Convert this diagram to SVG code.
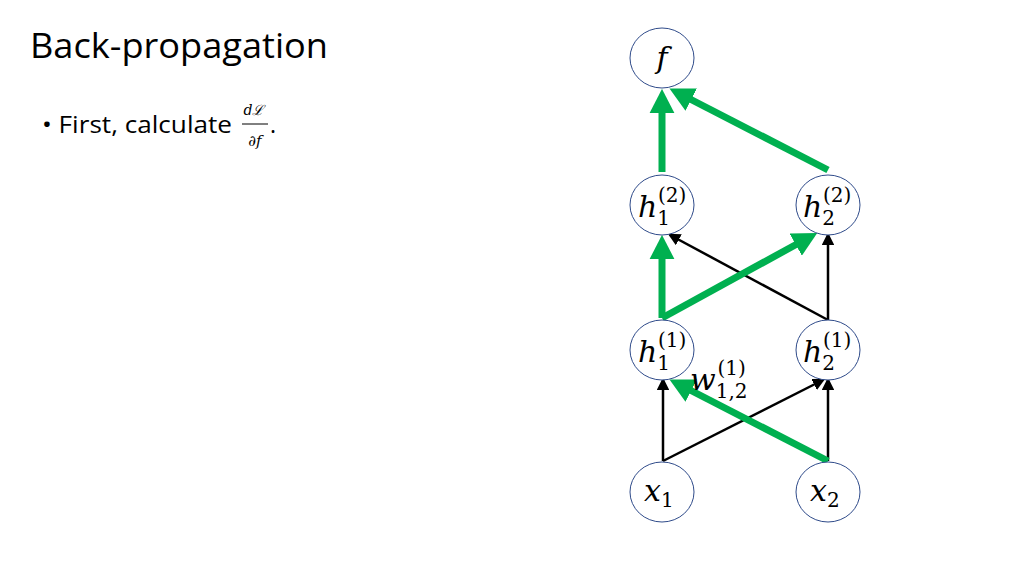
<svg xmlns="http://www.w3.org/2000/svg" width="1024" height="576" viewBox="0 0 1024 576">
<style>
.n{fill:#fff;stroke:#2f4b8a;stroke-width:1}
.m{font-family:"DejaVu Serif","Liberation Serif",serif;font-style:italic;fill:#000}
.t{font-family:"Open Sans","Liberation Sans",sans-serif;fill:#000}
.k{stroke:#000;stroke-width:2.5;fill:none;marker-end:url(#ak)}
.g{stroke:#00b050;stroke-width:7;fill:none;marker-end:url(#ag)}
</style>
<defs>
<marker id="ak" markerWidth="5" markerHeight="5" refX="4" refY="2.5" orient="auto" markerUnits="strokeWidth"><path d="M0,0L5,2.5L0,5z" fill="#000"/></marker>
<marker id="ag" markerWidth="3.5" markerHeight="3.6" refX="0.2" refY="1.8" orient="auto" markerUnits="strokeWidth"><path d="M0,0L3.5,1.8L0,3.6z" fill="#00b050"/></marker>
</defs>
<rect width="1024" height="576" fill="#fff"/>
<text class="t" x="30" y="58" font-size="35" textLength="298" lengthAdjust="spacingAndGlyphs">Back-propagation</text>
<text class="t" x="42" y="133" font-size="23" textLength="190" lengthAdjust="spacingAndGlyphs">• First, calculate</text>
<text class="m" x="254" y="115" font-size="14" text-anchor="middle">dℒ</text>
<line x1="242" y1="124" x2="268" y2="124" stroke="#000" stroke-width="1"/>
<text class="m" x="255" y="146" font-size="15" text-anchor="middle">∂f</text>
<text class="t" x="270" y="133" font-size="23">.</text>
<g id="connectors">
<line class="k" x1="663" y1="461" x2="663" y2="380"/>
<line class="k" x1="663" y1="461" x2="823" y2="380"/>
<line class="k" x1="828" y1="461" x2="828" y2="380"/>
<line class="k" x1="828" y1="320" x2="670" y2="235"/>
<line class="k" x1="828" y1="320" x2="828" y2="235"/>
<line class="g" x1="828" y1="461" x2="690" y2="390"/>
<line class="g" x1="662" y1="318" x2="662" y2="258"/>
<line class="g" x1="662" y1="318" x2="797" y2="244"/>
<line class="g" x1="662" y1="172" x2="662" y2="112"/>
<line class="g" x1="828" y1="170" x2="690" y2="99"/>
</g>
<g id="f"><ellipse class="n" cx="662" cy="58" rx="32" ry="30"/><text class="m" x="662" y="68" font-size="30" text-anchor="middle">f</text></g>
<g id="h12"><ellipse class="n" cx="662" cy="205" rx="32" ry="30"/><text class="m" x="638" y="217" font-size="30">h<tspan font-size="20" dy="8" font-style="normal">1</tspan><tspan font-size="20" dx="-12" dy="-23" font-style="normal">(2)</tspan></text></g>
<g id="h22"><ellipse class="n" cx="828" cy="205" rx="32" ry="30"/><text class="m" x="803" y="217" font-size="30">h<tspan font-size="20" dy="8" font-style="normal">2</tspan><tspan font-size="20" dx="-12" dy="-23" font-style="normal">(2)</tspan></text></g>
<g id="h11"><ellipse class="n" cx="662" cy="350" rx="32" ry="30"/><text class="m" x="638" y="362" font-size="30">h<tspan font-size="20" dy="8" font-style="normal">1</tspan><tspan font-size="20" dx="-12" dy="-23" font-style="normal">(1)</tspan></text></g>
<g id="h21"><ellipse class="n" cx="828" cy="350" rx="32" ry="30"/><text class="m" x="803" y="362" font-size="30">h<tspan font-size="20" dy="8" font-style="normal">2</tspan><tspan font-size="20" dx="-12" dy="-23" font-style="normal">(1)</tspan></text></g>
<g id="x1"><ellipse class="n" cx="662" cy="492" rx="32" ry="30"/><text class="m" x="644" y="501" font-size="30">x<tspan font-size="20" dy="6" font-style="normal">1</tspan></text></g>
<g id="x2"><ellipse class="n" cx="828" cy="492" rx="32" ry="30"/><text class="m" x="810" y="501" font-size="30">x<tspan font-size="20" dy="6" font-style="normal">2</tspan></text></g>
<text class="m" x="690" y="390" font-size="30">w<tspan font-size="20" dy="8" font-style="normal">1,2</tspan><tspan font-size="20" dx="-30" dy="-23" font-style="normal">(1)</tspan></text>
</svg>
